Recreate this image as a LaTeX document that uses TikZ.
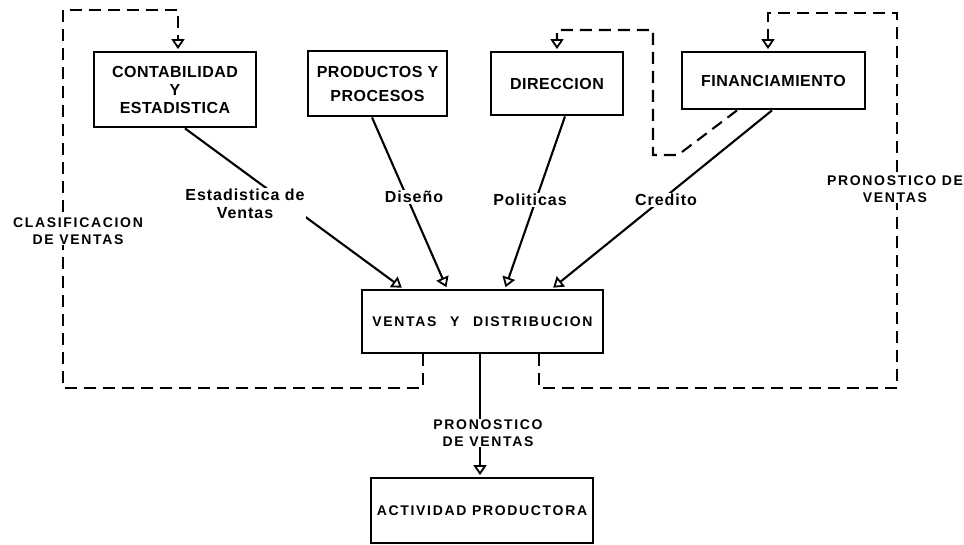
\documentclass[tikz,border=0pt]{standalone}
\usepackage{fontspec}
\setmainfont{Liberation Sans}
\newfontfamily\capsfont[LetterSpace=12]{Liberation Sans}
\newfontfamily\headfont[LetterSpace=3]{Liberation Sans}
\newfontfamily\notefont[LetterSpace=6]{Liberation Sans}
\usetikzlibrary{arrows.meta}

\begin{document}
\begin{tikzpicture}[x=1pt,y=-1pt,
  unit/.style={draw, line width=2.8pt, inner sep=0pt, align=center},
  head/.style={font=\headfont\bfseries\fontsize{16}{18}\selectfont},
  lower/.style={font=\capsfont\bfseries\fontsize{14}{17}\selectfont},
  flow/.style={line width=2.1pt, shorten >=1.5pt,
    -{Triangle[open,length=10pt,width=13pt,line width=1.8pt]}},
  feedback/.style={flow, dash pattern=on 12pt off 7pt},
  note/.style={fill=white, inner sep=1pt, align=center,
    font=\notefont\bfseries\fontsize{16}{18}\selectfont},
  capnote/.style={fill=white, inner sep=1pt, align=center,
    font=\capsfont\bfseries\fontsize{14}{17}\selectfont}]

\useasboundingbox (0,0) rectangle (964,545);

% departments
\node[unit, head, minimum width=162pt, minimum height=75pt] (acct) at (175,89.5)
  {CONTABILIDAD\\Y\\ESTADISTICA};
\node[unit, head, minimum width=139pt, minimum height=65pt] (prod) at (377.5,83.5)
  {PRODUCTOS Y\\[6pt]PROCESOS};
\node[unit, head, minimum width=132pt, minimum height=63pt] (dir) at (557,83.5)
  {DIRECCION};
\node[unit, head, minimum width=183pt, minimum height=57pt] (fin) at (773.5,80.5)
  {FINANCIAMIENTO};
\node[unit, lower, minimum width=241pt, minimum height=63pt] (sales) at (482.5,321.5)
  {VENTAS\hspace{8pt} Y\hspace{8pt} DISTRIBUCION};
\node[unit, lower, minimum width=222pt, minimum height=65pt] (prodn) at (482,510.5)
  {ACTIVIDAD PRODUCTORA};

% inputs to sales
\draw[flow] ([xshift=10pt]acct.south) -- ([xshift=-79.5pt]sales.north);
\draw[flow] ([xshift=-5.5pt]prod.south) -- ([xshift=-35.5pt]sales.north);
\draw[flow] ([xshift=8pt]dir.south) -- ([xshift=22.5pt]sales.north);
\draw[flow] ([xshift=-1.5pt]fin.south) -- ([xshift=69.5pt]sales.north);

% sales forecast to production
\coordinate (s0) at ([xshift=-2.5pt]sales.south);
\draw[flow] (s0) -- (s0 |- prodn.north);

% feedback loops
\draw[feedback] ([xshift=-59.5pt]sales.south) -- ++(0,34) -| (63,10) -| ([xshift=3pt]acct.north);
\draw[feedback] ([xshift=56.5pt]sales.south) -- ++(0,34) -| (897,13) -| ([xshift=-5.5pt]fin.north);
\draw[feedback] ([xshift=-36.5pt]fin.south) -- (678,155) -- (653,155) |- (558,30) -| (dir.north);

% flow labels
\node[note] (lblA) at (245,204) {Estadistica de\\Ventas};
\node[note] (lblB) at (414,197) {Diseño};
\node[note] (lblC) at (530,200) {Politicas};
\node[note] (lblD) at (666,200) {Credito};
\node[capnote] (lblE) at (78,231) {CLASIFICACION\\DE VENTAS};
\node[capnote] (lblF) at (895,189) {PRONOSTICO DE\\VENTAS};
\node[capnote] (lblG) at (488,433) {PRONOSTICO\\DE VENTAS};

\end{tikzpicture}
\end{document}
